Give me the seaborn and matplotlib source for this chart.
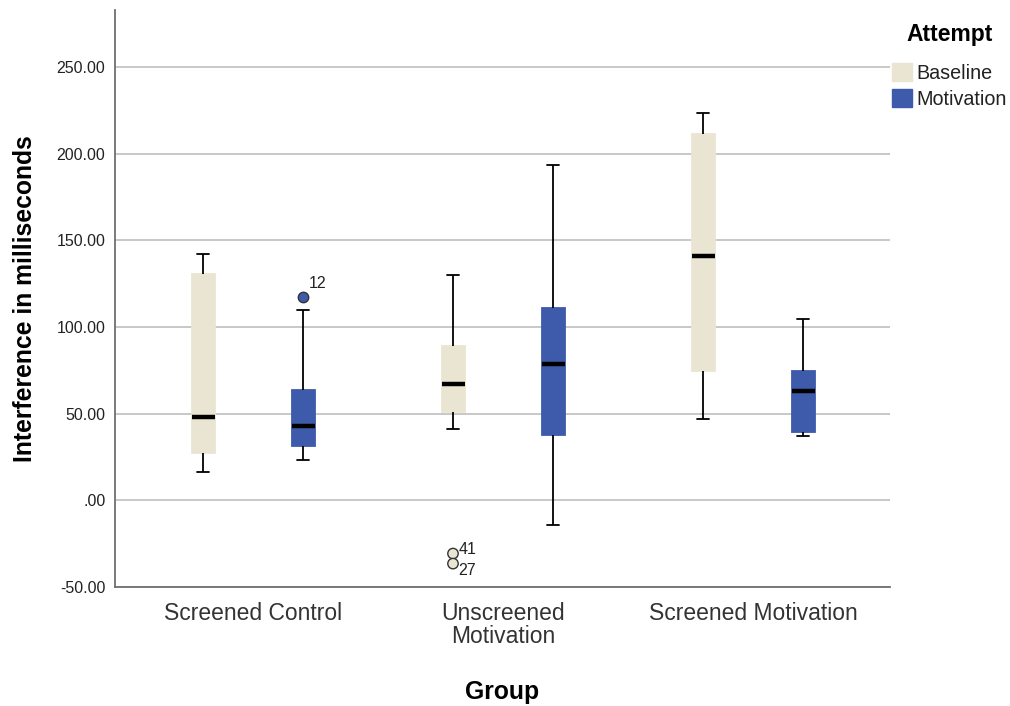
import numpy as np
import pandas as pd
import matplotlib
matplotlib.use("Agg")
import matplotlib.pyplot as plt
from matplotlib.patches import Patch
from matplotlib.ticker import FuncFormatter
import seaborn as sns

# ---- data ----
groups = ["Screened Control", "Unscreened Motivation", "Screened Motivation"]
group_ticklabels = ["Screened Control", "Unscreened\nMotivation", "Screened Motivation"]
attempts = ["Baseline", "Motivation"]

# five-number summaries per group: [whisker low, Q1, median, Q3, whisker high]
baseline_stats = [
    [16.2, 27.2, 48.0, 130.8, 142.4],
    [41.3, 51.1, 67.1, 89.1, 130.0],
    [46.7, 74.7, 141.0, 211.2, 223.8],
]
motivation_stats = [
    [23.5, 31.2, 42.8, 63.7, 110.0],
    [-14.5, 37.6, 78.7, 110.9, 193.3],
    [37.0, 39.2, 63.1, 74.7, 104.6],
]

outlier_groups = ["Screened Control", "Unscreened Motivation", "Unscreened Motivation"]
outlier_attempts = ["Motivation", "Baseline", "Baseline"]
outlier_values = [117.1, -30.7, -36.5]
outlier_labels = ["12", "41", "27"]

colors = {"Baseline": "#EAE5D2", "Motivation": "#3E5AAA"}

# ---- build long table ----
rows = []
for g, bs, ms in zip(groups, baseline_stats, motivation_stats):
    for v in bs:
        rows.append({"Group": g, "Attempt": "Baseline", "Value": v})
    for v in ms:
        rows.append({"Group": g, "Attempt": "Motivation", "Value": v})
df = pd.DataFrame(rows)
out_df = pd.DataFrame({"Group": outlier_groups, "Attempt": outlier_attempts,
                       "Value": outlier_values, "Label": outlier_labels})

sns.set_theme(style="white")
plt.rcParams["font.family"] = ["Liberation Sans", "DejaVu Sans"]

fig = plt.figure(figsize=(10.1, 7.06), dpi=100)
ax = fig.add_axes([115 / 1010, (706 - 587) / 706, (890 - 115) / 1010, (587 - 10) / 706])

sns.boxplot(data=df, x="Group", y="Value", hue="Attempt", order=groups,
            hue_order=attempts, palette=colors, saturation=1, whis=(0, 100),
            showfliers=False, width=0.8, gap=0.77, linecolor="black", linewidth=1.3,
            medianprops=dict(color="black", linewidth=3.2),
            legend=False, ax=ax, zorder=3)

for p in ax.patches:
    fc = p.get_facecolor()
    p.set_edgecolor(fc)

sns.stripplot(data=out_df, x="Group", y="Value", hue="Attempt", order=groups,
              hue_order=attempts, palette=colors, dodge=True, jitter=False,
              size=7.5, edgecolor="#333333", linewidth=1.0, legend=False,
              ax=ax, zorder=4)

# outlier case labels
offsets = {"12": (4, 10), "41": (4, 3), "27": (4, -5)}
for g, a, v, lab in zip(outlier_groups, outlier_attempts, outlier_values, outlier_labels):
    xpos = groups.index(g) + (-0.2 if a == "Baseline" else 0.2)
    dx, dy = offsets[lab]
    ax.annotate(lab, (xpos, v), xytext=(dx, dy), textcoords="offset points",
                ha="left", va="center", fontsize=11.5, color="#222222")

# axes styling
ax.set_xlim(-0.552, 2.548)
ax.set_ylim(-50, 283)
ax.set_yticks([-50, 0, 50, 100, 150, 200, 250])
ax.yaxis.set_major_formatter(FuncFormatter(
    lambda v, p: ".00" if abs(v) < 1e-9 else f"{v:.2f}"))
ax.yaxis.grid(True, color="#c4c4c4", linewidth=1.3, zorder=0)
ax.set_axisbelow(True)
ax.xaxis.grid(False)
for s in ["top", "right"]:
    ax.spines[s].set_visible(False)
for s in ["left", "bottom"]:
    ax.spines[s].set_color("#707070")
    ax.spines[s].set_linewidth(1.3)

ax.tick_params(axis="y", length=0, pad=7, labelsize=11.5, labelcolor="#222222")
ax.tick_params(axis="x", length=0, pad=10.5, labelsize=16.5, labelcolor="#333333")
ax.set_xticks(range(len(groups)))
ax.set_xticklabels(group_ticklabels)
for t in ax.get_xticklabels():
    t.set_linespacing(1.05)

ax.set_ylabel("Interference in milliseconds", fontsize=17.8, fontweight="bold",
              color="black", labelpad=14)
ax.set_xlabel("Group", fontsize=17.8, fontweight="bold", color="black")
ax.xaxis.set_label_coords(0.5, (587 - 692) / 577)
ax.xaxis.label.set_va("center")

handles = [Patch(facecolor=colors[a], edgecolor=colors[a]) for a in attempts]
leg = ax.legend(handles, attempts, title="Attempt", loc="upper left",
                bbox_to_anchor=(0.866, 0.992), bbox_transform=fig.transFigure,
                frameon=False, fontsize=14.2, handlelength=1.0, handleheight=1.0,
                handletextpad=0.2, labelspacing=0.33,
                title_fontproperties={"weight": "bold", "size": 16.5})
leg._legend_box.sep = 12
leg.get_title().set_color("black")
for t in leg.get_texts():
    t.set_color("#222222")

fig.savefig("out.png", dpi=100)
